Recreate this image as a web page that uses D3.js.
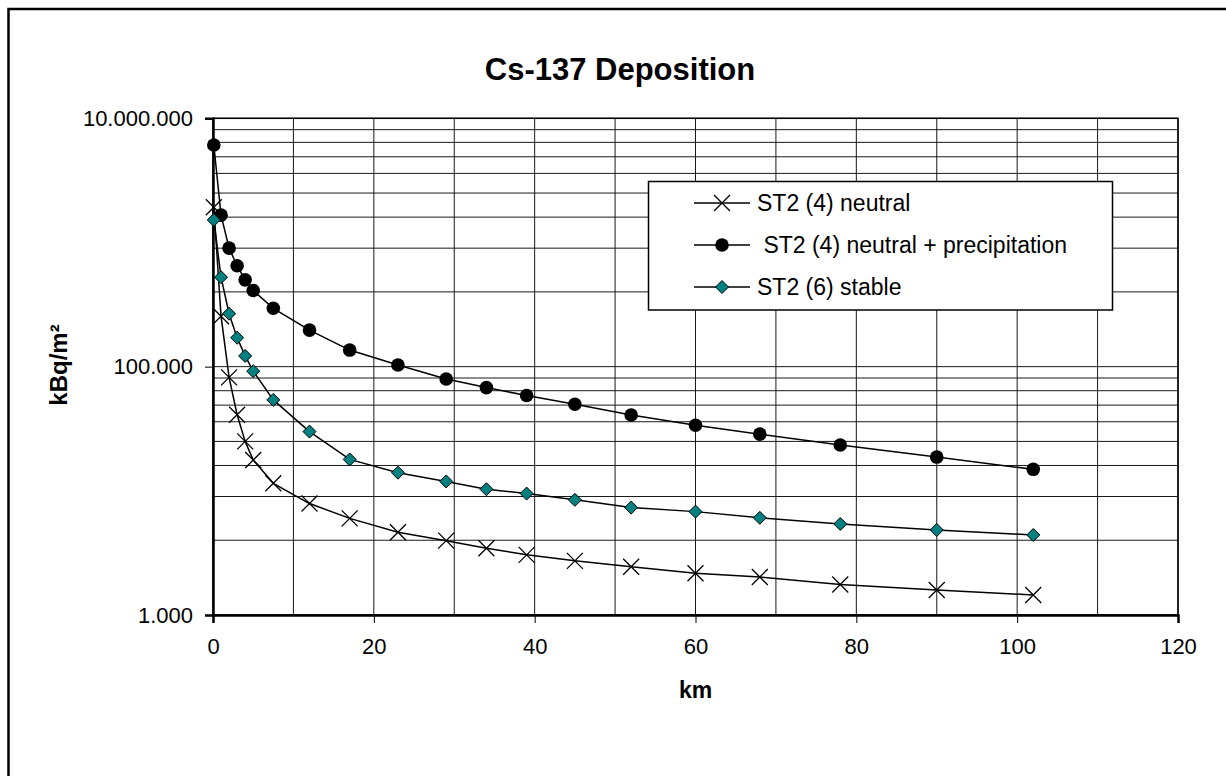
<!DOCTYPE html>
<html>
<head>
<meta charset="utf-8">
<script src="https://cdn.jsdelivr.net/npm/d3@7"></script>
<style>
  body { margin: 0; background: #fff; }
  svg { display: block; font-family: "Liberation Sans", Arial, sans-serif; }
</style>
</head>
<body>
<svg id="chart" width="1226" height="776"></svg>
<script>
// distance from source, km
const km = [0.1, 1, 2, 3, 4, 5, 7.5, 12, 17, 23, 29, 34, 39, 45, 52, 60, 68, 78, 90, 102];

// Cs-137 deposition, kBq/m2
const neutral = [1920000, 255000, 82000, 41000, 25000, 17700, 11500, 7900, 6000, 4640,
  3970, 3450, 3050, 2730, 2450, 2170, 2020, 1760, 1590, 1450];
const neutralPrecip = [6100000, 1660000, 900000, 650000, 500000, 410000, 295000, 197000, 136000, 103000,
  79600, 67800, 58500, 49800, 40800, 33700, 28600, 23400, 18700, 14900];
const stable = [1520000, 525000, 267000, 171000, 122000, 92000, 54000, 30000, 17900, 14000,
  11900, 10300, 9500, 8460, 7330, 6800, 6060, 5410, 4840, 4410];

const seriesNames = ["ST2 (4) neutral", " ST2 (4) neutral + precipitation", "ST2 (6) stable"];
const xTicks = [0, 20, 40, 60, 80, 100, 120];
const yTicks = [1000, 100000, 10000000];
const yTickLabels = ["1.000", "100.000", "10.000.000"];

const svg = d3.select("#chart");

const margin = { top: 118.3, right: 48, bottom: 161, left: 213 };
const width = 1226 - margin.left - margin.right;
const height = 776 - margin.top - margin.bottom;

// outer chart frame (runs off the picture on right and bottom)
svg.append("rect")
  .attr("x", 8.5).attr("y", 9)
  .attr("width", 1260).attr("height", 820)
  .attr("fill", "none").attr("stroke", "#000").attr("stroke-width", 2.5);

svg.append("text")
  .attr("x", 620).attr("y", 80)
  .attr("text-anchor", "middle")
  .attr("font-size", 31).attr("font-weight", "bold")
  .text("Cs-137 Deposition");

const g = svg.append("g")
  .attr("transform", "translate(" + margin.left + "," + margin.top + ")");

const x = d3.scaleLinear().domain([0, 120]).range([0, width]);
const y = d3.scaleLog().domain([1000, 10000000]).range([height, 0]);

// minor gridlines: Excel log base 100 puts them at base * k^2
const yMinor = [];
[1000, 100000].forEach(function (b) {
  for (let k = 2; k <= 9; k++) yMinor.push(b * k * k);
});

const grid = g.append("g").attr("stroke", "#1a1a1a").attr("stroke-width", 1);
grid.selectAll(".hgrid")
  .data(yMinor.concat(yTicks))
  .enter().append("line")
  .attr("x1", 0).attr("x2", width)
  .attr("y1", function (d) { return y(d); })
  .attr("y2", function (d) { return y(d); });
grid.selectAll(".vgrid")
  .data(d3.range(10, 121, 10))
  .enter().append("line")
  .attr("y1", 0).attr("y2", height)
  .attr("x1", function (d) { return x(d); })
  .attr("x2", function (d) { return x(d); });

// plot frame
g.append("rect")
  .attr("width", width).attr("height", height)
  .attr("fill", "none").attr("stroke", "#000").attr("stroke-width", 1.5);

// x axis
const xAxis = g.append("g")
  .attr("transform", "translate(0," + height + ")")
  .call(d3.axisBottom(x).tickValues(xTicks).tickSize(8).tickPadding(15).tickFormat(d3.format("d")));
xAxis.select(".domain").attr("stroke-width", 2.5);
xAxis.selectAll("text").attr("font-size", 22).attr("font-family", "Liberation Sans, Arial, sans-serif").attr("fill", "#000");

// y axis
const yAxis = g.append("g")
  .call(d3.axisLeft(y).tickValues(yTicks).tickSize(8).tickPadding(12)
    .tickFormat(function (d, i) { return yTickLabels[i]; }));
yAxis.select(".domain").attr("stroke-width", 2.5);
yAxis.selectAll("text").attr("font-size", 22).attr("font-family", "Liberation Sans, Arial, sans-serif").attr("fill", "#000");

g.append("text")
  .attr("x", width / 2).attr("y", 580 - margin.top + 118)
  .attr("text-anchor", "middle")
  .attr("font-size", 23).attr("font-weight", "bold")
  .text("km");

svg.append("text")
  .attr("transform", "translate(67,365) rotate(-90)")
  .attr("text-anchor", "middle")
  .attr("font-size", 24).attr("font-weight", "bold")
  .text("kBq/m²");

// series
const line = d3.line()
  .x(function (d) { return x(d[0]); })
  .y(function (d) { return y(d[1]); });

const crossPath = "M-8,-8L8,8M-8,8L8,-8";
const diamondPath = "M0,-6.5L6.5,0L0,6.5L-6.5,0Z";

function drawMarker(sel, i) {
  if (i === 0) {
    sel.append("path").attr("d", crossPath).attr("stroke", "#000").attr("stroke-width", 1.3).attr("fill", "none");
  } else if (i === 1) {
    sel.append("circle").attr("r", 6.8).attr("fill", "#000");
  } else {
    sel.append("path").attr("d", diamondPath).attr("fill", "#008080").attr("stroke", "#000").attr("stroke-width", 1);
  }
}

const allSeries = [neutral, neutralPrecip, stable];

allSeries.forEach(function (vals, i) {
  const pts = km.map(function (k, j) { return [k, vals[j]]; });
  g.append("path")
    .datum(pts)
    .attr("fill", "none").attr("stroke", "#000").attr("stroke-width", 1.5)
    .attr("d", line);
});

allSeries.forEach(function (vals, i) {
  const pts = km.map(function (k, j) { return [k, vals[j]]; });
  g.selectAll(".m" + i)
    .data(pts)
    .enter().append("g")
    .attr("transform", function (d) { return "translate(" + x(d[0]) + "," + y(d[1]) + ")"; })
    .each(function () { drawMarker(d3.select(this), i); });
});

// legend
const legend = svg.append("g");
legend.append("rect")
  .attr("x", 648.5).attr("y", 181.5)
  .attr("width", 464).attr("height", 128.5)
  .attr("fill", "#fff").attr("stroke", "#000").attr("stroke-width", 1.5);

seriesNames.forEach(function (name, i) {
  const ly = 203 + i * 42;
  const row = legend.append("g").attr("transform", "translate(0," + ly + ")");
  row.append("line").attr("x1", 694).attr("x2", 750).attr("stroke", "#000").attr("stroke-width", 1.5);
  const mk = row.append("g").attr("transform", "translate(722,0)");
  drawMarker(mk, i);
  row.append("text")
    .attr("x", 757).attr("y", 8)
    .attr("font-size", 23)
    .attr("xml:space", "preserve")
    .style("white-space", "pre")
    .text(name);
});
</script>
</body>
</html>
